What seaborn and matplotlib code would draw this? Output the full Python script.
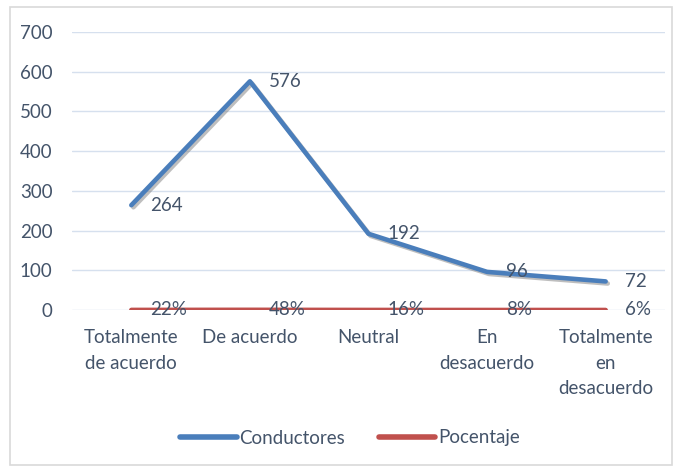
import matplotlib
matplotlib.use("Agg")
import matplotlib.pyplot as plt
import matplotlib.patheffects as pe
from matplotlib.patches import Rectangle
from matplotlib.transforms import offset_copy
import seaborn as sns
import pandas as pd

categories = ["Totalmente de acuerdo", "De acuerdo", "Neutral", "En desacuerdo", "Totalmente en desacuerdo"]
tick_labels = ["Totalmente\nde acuerdo", "De acuerdo", "Neutral", "En\ndesacuerdo", "Totalmente\nen\ndesacuerdo"]
conductores = [264, 576, 192, 96, 72]
porcentaje = [0.22, 0.48, 0.16, 0.08, 0.06]
pct_labels = ["22%", "48%", "16%", "8%", "6%"]
series_names = ["Conductores", "Pocentaje"]

df = pd.DataFrame({
    "cat": categories * 2,
    "val": conductores + porcentaje,
    "serie": [series_names[0]] * 5 + [series_names[1]] * 5,
})

sns.set_theme(style="white")
plt.rcParams["font.family"] = ["Lato", "DejaVu Sans"]
text_color = "#44546A"
fs = 13.5

fig = plt.figure(figsize=(6.82, 4.72), dpi=100)
fig.patch.set_facecolor("white")
ax = fig.add_axes([0.1056, 0.3432, 0.8694, 0.5888])

shadow = [pe.SimpleLineShadow(offset=(1.5, -1.5), shadow_color="#7f7f7f", alpha=0.5), pe.Normal()]
sns.lineplot(data=df, x="cat", y="val", hue="serie", sort=False,
             palette=["#4A7EBB", "#C0504D"], linewidth=3.3, ax=ax, legend=True,
             path_effects=shadow)

ax.set_ylim(0, 700)
ax.set_xlim(-0.5, 4.5)
ax.set_yticks(range(0, 701, 100))
ax.grid(axis="y", color="#D6E0EE", linewidth=1)
ax.set_axisbelow(True)
for s in ax.spines.values():
    s.set_visible(False)
ax.set_xlabel("")
ax.set_ylabel("")
ax.set_xticks(range(5))
ax.set_xticklabels(tick_labels, color=text_color, fontsize=fs, linespacing=1.6)
ax.tick_params(axis="x", length=0, pad=14)
ax.tick_params(axis="y", length=0, pad=14, labelcolor=text_color, labelsize=fs)

tr = offset_copy(ax.transData, fig=fig, x=19, y=0, units="dots")
for i, v in enumerate(conductores):
    ax.text(i, v, str(v), transform=tr, ha="left", va="center", color=text_color, fontsize=fs)
for i, v in enumerate(porcentaje):
    ax.text(i, v, pct_labels[i], transform=tr, ha="left", va="center", color=text_color, fontsize=fs)

leg = ax.legend(loc="center", bbox_to_anchor=(350 / 682, 1 - 438 / 472), bbox_transform=fig.transFigure,
                ncol=2, frameon=False, fontsize=fs, handlelength=3.0, handletextpad=0.15, columnspacing=1.8)
for t in leg.get_texts():
    t.set_color(text_color)
for h in leg.get_lines():
    h.set_linewidth(4)
    h.set_path_effects([])

fig.patches.append(Rectangle((10 / 682, 7 / 472), 662 / 682, 458 / 472, transform=fig.transFigure,
                             fill=False, edgecolor="#D9D9D9", linewidth=1.2))

fig.savefig("out.png", dpi=100)
